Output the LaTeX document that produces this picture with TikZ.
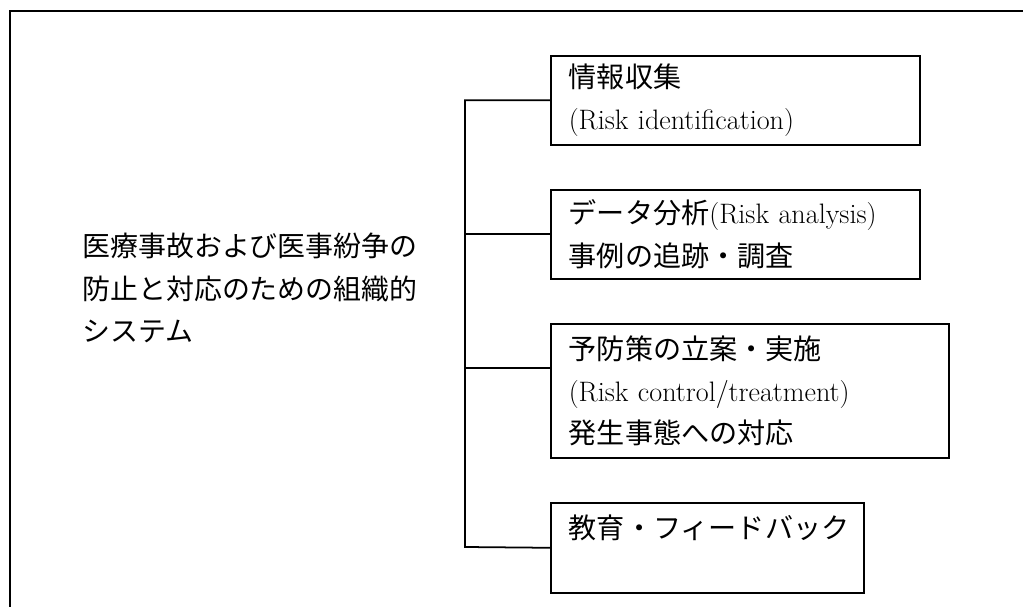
\documentclass[tikz,border=0pt]{standalone}
\usepackage{fontspec}
\setmainfont{Latin Modern Roman}
\newfontfamily\jpfont{Noto Sans CJK JP}
\usepackage{tikz}

\begin{document}
\begin{tikzpicture}

    \useasboundingbox (0,0) rectangle (20.46,12.12);
    \draw [line width=1.5pt] (0.2,-0.3) -- (0.2,11.9) -- (20.8,11.9);

    \node (sys) [anchor=north west, inner sep=0pt, align=left, font=\fontsize{15.9}{24.1}\selectfont\jpfont] at (1.64,7.46) {医療事故および医事紛争の\\防止と対応のための組織的\\システム};

    \begin{scope}[every node/.style={draw=black, line width=0.9pt, anchor=north west, inner xsep=0.36cm, inner ysep=0pt, align=left, font=\fontsize{16}{24}\selectfont}]
        \node (ident) [text width=6.66cm, minimum height=1.78cm] at (11.0,11.02) {{\jpfont 情報収集}\\(Risk identification)};
        \node (analysis) [text width=6.66cm, minimum height=1.78cm] at (11.0,8.34) {{\jpfont データ分析}(Risk analysis)\\{\jpfont 事例の追跡・調査}};
        \node (treat) [text width=7.24cm, minimum height=2.68cm] at (11.0,5.66) {{\jpfont 予防策の立案・実施}\\(Risk control/treatment)\\{\jpfont 発生事態への対応}};
        \node (feedback) [text width=5.54cm, minimum height=1.8cm] at (11.0,2.08) {{\jpfont 教育・フィードバック}\\\mbox{}};
    \end{scope}

    \coordinate (spine) at (9.3,1.18);
    \coordinate (k3) at ([yshift=-0.9cm]treat.north west);

    \begin{scope}[line width=1pt]
        \draw (ident.west) -| (spine) -- (feedback.west);
        \draw (analysis.west) -- (analysis.west -| spine);
        \draw (k3) -- (k3 -| spine);
    \end{scope}

\end{tikzpicture}
\end{document}
